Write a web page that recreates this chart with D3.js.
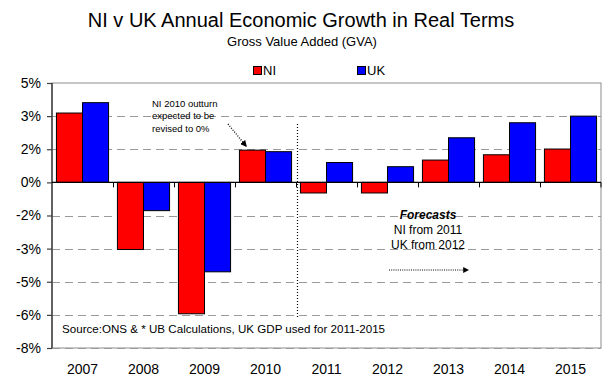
<!DOCTYPE html>
<html>
<head>
<meta charset="utf-8">
<script src="https://cdn.jsdelivr.net/npm/d3@7"></script>
<style>
  html, body { margin: 0; padding: 0; background: #fff; }
  svg { display: block; font-family: "Liberation Sans", Arial, sans-serif; }
</style>
</head>
<body>
<svg id="chart" width="605" height="381"></svg>
<script>
// Annual growth in real terms (%), GVA
const years = ["2007", "2008", "2009", "2010", "2011", "2012", "2013", "2014", "2015"];
const niGrowth = [3.14, -3.04, -5.95, 1.46, -0.48, -0.48, 1.01, 1.25, 1.51];
const ukGrowth = [3.61, -1.28, -4.05, 1.39, 0.90, 0.71, 2.02, 2.70, 3.00];
const seriesNames = ["NI", "UK"];
const seriesColors = ["#ff0000", "#0000ff"];
const yTickValues = [4.5, 3, 1.5, 0, -1.5, -3, -4.5, -6, -7.5];
const yTickLabels = ["5%", "3%", "2%", "0%", "-2%", "-3%", "-5%", "-6%", "-8%"];

const svg = d3.select("#chart");
const plot = { left: 52, right: 601, top: 83, bottom: 348 };

const x = d3.scaleBand().domain(years).range([plot.left, plot.right]);
const inner = d3.scaleBand().domain(seriesNames).range([0, x.step()])
  .paddingOuter(0.085 * 2).paddingInner(0);
const y = d3.scaleLinear().domain([-7.5, 4.5]).range([plot.bottom, plot.top]);

// Plot frame
svg.append("rect")
  .attr("x", plot.left).attr("y", plot.top)
  .attr("width", plot.right - plot.left).attr("height", plot.bottom - plot.top)
  .attr("fill", "#fff").attr("stroke", "#8c8c8c").attr("stroke-width", 1);

// Dashed gridlines
svg.append("g").selectAll("line")
  .data(yTickValues.filter(v => v !== 0 && v !== 4.5))
  .join("line")
  .attr("x1", plot.left).attr("x2", plot.right)
  .attr("y1", d => Math.round(y(d)) + 0.5).attr("y2", d => Math.round(y(d)) + 0.5)
  .attr("stroke", "#9a9a9a").attr("stroke-dasharray", "8,5");

// Bars
const groups = svg.append("g").selectAll("g")
  .data(years.map((yr, i) => ({ yr, vals: [niGrowth[i], ukGrowth[i]] })))
  .join("g")
  .attr("transform", d => `translate(${x(d.yr)},0)`);

groups.selectAll("rect")
  .data(d => d.vals.map((v, j) => ({ v, s: seriesNames[j], c: seriesColors[j] })))
  .join("rect")
  .attr("x", d => inner(d.s))
  .attr("width", inner.bandwidth())
  .attr("y", d => y(Math.max(0, d.v)))
  .attr("height", d => Math.abs(y(d.v) - y(0)))
  .attr("fill", d => d.c)
  .attr("stroke", "#000").attr("stroke-width", 1);

// Forecast divider
const divX = x("2011") + 1.5;
svg.append("line")
  .attr("x1", divX).attr("x2", divX)
  .attr("y1", 124).attr("y2", 318)
  .attr("stroke", "#000").attr("stroke-width", 1.2).attr("stroke-dasharray", "1,2");

// Y axis
const yAxis = d3.axisLeft(y).tickValues(yTickValues)
  .tickFormat((d, i) => yTickLabels[i]).tickSize(5).tickPadding(6);
const gy = svg.append("g").attr("transform", `translate(${plot.left},0)`).call(yAxis);
gy.select(".domain").attr("stroke", "#404040").attr("stroke-width", 1.5)
  .attr("d", `M0,${plot.top}V${plot.bottom}`);
gy.selectAll(".tick line").attr("stroke", "#404040").attr("stroke-width", 1.2);
gy.selectAll(".tick text").attr("font-size", 14).attr("fill", "#000")
  .attr("font-family", "Liberation Sans, Arial, sans-serif");

// Zero line with category ticks
const xAxis = d3.axisBottom(x).tickValues(years.slice(1)).tickSize(5).tickFormat("");
const gx = svg.append("g").attr("transform", `translate(0,${y(0)})`).call(xAxis);
gx.select(".domain").attr("stroke", "#000").attr("stroke-width", 1.3)
  .attr("d", `M${plot.left},0H${plot.right}`);
gx.selectAll(".tick").attr("transform", d => `translate(${x(d) + 0.5},0)`);
gx.selectAll(".tick line").attr("stroke", "#000");
gx.append("line").attr("x1", plot.right).attr("x2", plot.right).attr("y1", 0).attr("y2", 5).attr("stroke", "#000");

// Year labels under the plot
svg.append("g").selectAll("text")
  .data(years).join("text")
  .attr("x", d => x(d) + x.bandwidth() / 2)
  .attr("y", 374)
  .attr("text-anchor", "middle")
  .attr("font-size", 14)
  .text(d => d);

// Titles
svg.append("text").attr("x", 301).attr("y", 27).attr("text-anchor", "middle")
  .attr("font-size", 20).text("NI v UK Annual Economic Growth in Real Terms");
svg.append("text").attr("x", 302).attr("y", 46).attr("text-anchor", "middle")
  .attr("font-size", 13).text("Gross Value Added (GVA)");

// Legend
const legendX = [253, 357];
seriesNames.forEach((name, i) => {
  svg.append("rect").attr("x", legendX[i] + 0.5).attr("y", 66.5).attr("width", 8).attr("height", 8)
    .attr("fill", seriesColors[i]).attr("stroke", "#000");
  svg.append("text").attr("x", legendX[i] + 10).attr("y", 75).attr("font-size", 13).text(name);
});

// Annotations
const note = svg.append("text").attr("font-size", 9.5).attr("fill", "#000");
["NI 2010 outturn", "expected to be", "revised to 0%"].forEach((t, i) => {
  note.append("tspan").attr("x", 152).attr("y", 107 + i * 12.3).text(t);
});

const defs = svg.append("defs");
defs.append("marker").attr("id", "head").attr("viewBox", "0 0 10 10")
  .attr("refX", 8).attr("refY", 5).attr("markerWidth", 5).attr("markerHeight", 5)
  .attr("orient", "auto")
  .append("path").attr("d", "M0,0L10,5L0,10z").attr("fill", "#000");

svg.append("line").attr("x1", 228).attr("y1", 124).attr("x2", 246).attr("y2", 146)
  .attr("stroke", "#000").attr("stroke-width", 1.3).attr("stroke-dasharray", "1,1.5")
  .attr("marker-end", "url(#head)");

svg.append("text").attr("x", 428).attr("y", 219).attr("text-anchor", "middle")
  .attr("font-size", 12).attr("font-weight", "bold").attr("font-style", "italic").text("Forecasts");
svg.append("text").attr("x", 428).attr("y", 234).attr("text-anchor", "middle")
  .attr("font-size", 12).text("NI from 2011");
svg.append("text").attr("x", 428).attr("y", 249).attr("text-anchor", "middle")
  .attr("font-size", 12).text("UK from 2012");
svg.append("line").attr("x1", 389).attr("y1", 270).attr("x2", 468).attr("y2", 270)
  .attr("stroke", "#000").attr("stroke-width", 1.2).attr("stroke-dasharray", "1,1.2")
  .attr("marker-end", "url(#head)");

svg.append("text").attr("x", 62).attr("y", 333).attr("font-size", 11.6)
  .text("Source:ONS & * UB Calculations, UK GDP used for 2011-2015");
</script>
</body>
</html>
